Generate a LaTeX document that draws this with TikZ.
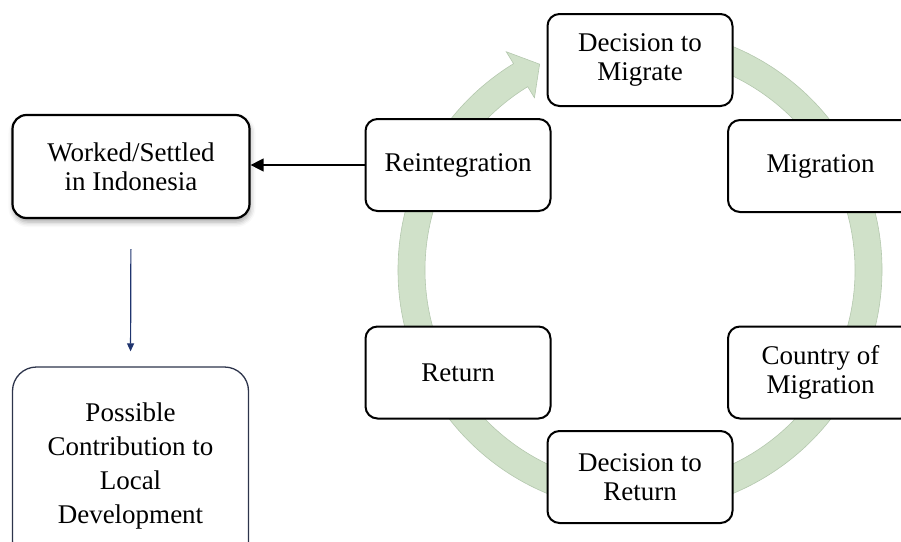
\documentclass[tikz,border=0pt]{standalone}
\usepackage{fontspec}
\setmainfont{Liberation Serif}
\usetikzlibrary{arrows.meta,shadows.blur}
\definecolor{ringfill}{RGB}{208,225,201}
\definecolor{ringedge}{RGB}{180,200,174}
\definecolor{navyline}{RGB}{31,52,110}
\definecolor{panelline}{RGB}{45,52,75}
\tikzset{
  stage/.style={draw=black, line width=2pt, rounded corners=12pt, fill=white,
    minimum width=185pt, minimum height=92pt, align=center, inner sep=0pt,
    font=\fontsize{27pt}{29pt}\selectfont},
  outcome/.style={draw=black, line width=2.2pt, rounded corners=14pt, fill=white,
    minimum width=237pt, minimum height=103pt, align=center, inner sep=0pt,
    font=\fontsize{27pt}{29pt}\selectfont,
    blur shadow={shadow xshift=1pt, shadow yshift=-4pt, shadow blur radius=5pt, shadow opacity=35}},
  impact/.style={draw=panelline, line width=1.3pt, rounded corners=24pt, fill=white,
    minimum width=236pt, minimum height=198pt, align=center, inner sep=0pt,
    font=\fontsize{27pt}{34pt}\selectfont},
  ring/.style={fill=ringfill, draw=ringedge, line width=0.6pt},
  flow/.style={line width=1.3pt, -{Triangle[length=13pt,width=13pt]}},
  down/.style={draw=navyline, line width=1.2pt, -{Triangle[length=8pt,width=7pt]}}
}
\begin{document}
\begin{tikzpicture}[x=1pt,y=-1pt]
\useasboundingbox (0,0) rectangle (901,541);

% circular arrow behind the cycle
\begin{scope}[shift={(640,270)}, yscale=-1]
  \path[ring] (121.5:242) arc[start angle=121.5, end angle=460, radius=242]
    -- (460:215) arc[start angle=460, end angle=121.5, radius=215]
    -- (121.5:202) -- (116:229) -- (121.5:256) -- cycle;
\end{scope}

% cycle stages
\node[stage] (dm) at (640,60) {Decision to\\Migrate};
\node[stage] (mig) at (820.5,166) {Migration};
\node[stage] (cm) at (820.5,372.5) {Country of\\Migration};
\node[stage] (dr) at (640,477) {Decision to\\Return};
\node[stage] (ret) at (458,372.5) {Return};
\node[stage] (rei) at (458,165) {Reintegration};

% outcomes
\node[outcome] (ws) at (131,166.5) {Worked/Settled\\in Indonesia};
\node[impact] (pc) at (130.5,466) {Possible\\Contribution to\\Local\\Development};

% connectors
\draw[flow] (rei.west) -- (rei.west -| ws.east);
\draw[down, shorten <=30pt, shorten >=15pt] (ws.south) -- (pc.north);
\end{tikzpicture}
\end{document}
